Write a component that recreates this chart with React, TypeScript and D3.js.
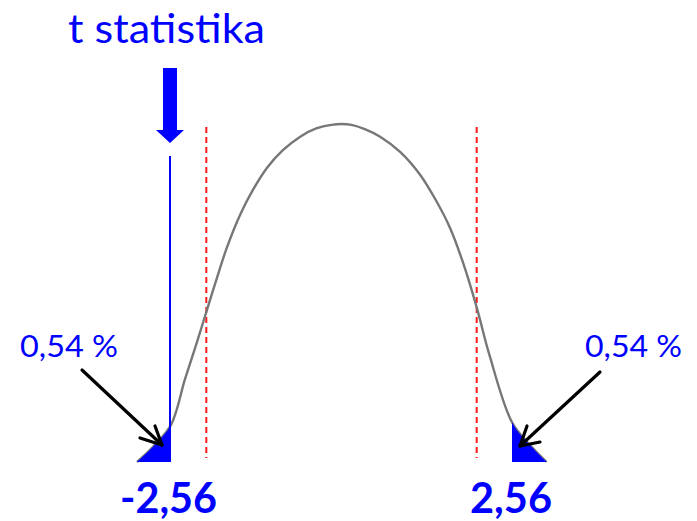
import React from "react";
import * as d3 from "d3";

// Density curve (t value, density)
const curveT = [-3.07, -2.83, -2.56, -2.35, -2.17, -2.02, -1.87, -1.72, -1.52, -1.33, -1.12, -0.88, -0.62, -0.37, -0.15, 0, 0.15, 0.35, 0.58, 0.88, 1.18, 1.43, 1.63, 1.82, 2.03, 2.22, 2.56, 2.83, 3.08];
const curveD = [0, 0.018, 0.044, 0.098, 0.142, 0.18, 0.218, 0.254, 0.293, 0.322, 0.348, 0.369, 0.385, 0.395, 0.399, 0.4, 0.399, 0.394, 0.385, 0.367, 0.34, 0.308, 0.277, 0.237, 0.183, 0.127, 0.047, 0.02, 0];

const tStat = -2.56;
const tails = [-2.56, 2.56];
const critical = [-2.03, 2.03];
const tailLabels = ["-2,56", "2,56"];
const pLabel = "0,54 %";
const title = "t statistika";

const W = 697;
const H = 521;

export default function App() {
  const x = d3.scaleLinear().domain([-2.56, 2.56]).range([171, 512]);
  const y = d3.scaleLinear().domain([0, 0.4]).range([462, 124]);
  const pts = curveT.map((t, i) => [t, curveD[i]] as [number, number]);

  const line = d3
    .line<[number, number]>()
    .x((d) => x(d[0]))
    .y((d) => y(d[1]))
    .curve(d3.curveCatmullRom.alpha(0.5));
  const area = d3
    .area<[number, number]>()
    .x((d) => x(d[0]))
    .y0(y(0))
    .y1((d) => y(d[1]))
    .curve(d3.curveCatmullRom.alpha(0.5));

  const sx = x(tStat);
  const blue = "#0000ff";
  const xl = x(tails[0]);
  const xr = x(tails[1]);

  return (
    <svg
      width={W}
      height={H}
      style={{ position: "absolute", left: 0, top: 0, background: "#fff" }}
      fontFamily="Lato, 'Open Sans', sans-serif"
    >
      <defs>
        <clipPath id="tailsClip">
          <rect x={0} y={0} width={xl} height={H} />
          <rect x={xr} y={0} width={W - xr} height={H} />
        </clipPath>
      </defs>
      <rect width={W} height={H} fill="#fff" />
      {/* critical value lines */}
      {critical.map((c, i) => (
        <line
          key={i}
          x1={x(c)}
          x2={x(c)}
          y1={127}
          y2={458}
          stroke="#ff1a1a"
          strokeWidth={2}
          strokeDasharray="6,4"
        />
      ))}
      {/* density curve */}
      <path d={line(pts) || ""} fill="none" stroke="#777" strokeWidth={2.4} />
      {/* shaded tails */}
      <path d={area(pts) || ""} fill={blue} clipPath="url(#tailsClip)" />
      {/* t statistic line */}
      <line x1={sx - 1} x2={sx - 1} y1={156} y2={y(0)} stroke={blue} strokeWidth={2} />
      {/* big blue arrow */}
      <path
        d={`M${sx - 8},68 L${sx + 6},68 L${sx + 6},130 L${sx + 13},130 L${sx - 1},143 L${sx - 15},130 L${sx - 8},130 Z`}
        fill={blue}
      />
      <text x={68} y={43} fontSize={40} fill={blue} textLength={197} lengthAdjust="spacingAndGlyphs">
        {title}
      </text>
      {/* percentage labels */}
      <text x={20} y={357} fontSize={30} fill={blue} textLength={98} lengthAdjust="spacingAndGlyphs">
        {pLabel}
      </text>
      <text x={585} y={357} fontSize={30} fill={blue} textLength={97} lengthAdjust="spacingAndGlyphs">
        {pLabel}
      </text>
      {/* black arrows */}
      <g stroke="#000" strokeWidth={3.2} fill="none" strokeLinecap="round" strokeLinejoin="round">
        <line x1={82} y1={370} x2={162} y2={445} />
        <polyline points="140,438 162,445 155,426" />
        <line x1={600} y1={372} x2={520} y2={446} />
        <polyline points="527,426 520,446 540,442" />
      </g>
      {/* tail value labels */}
      <text x={120} y={513} fontSize={42} fontWeight="bold" fill={blue} textLength={97} lengthAdjust="spacingAndGlyphs">
        {tailLabels[0]}
      </text>
      <text x={470} y={513} fontSize={42} fontWeight="bold" fill={blue} textLength={82} lengthAdjust="spacingAndGlyphs">
        {tailLabels[1]}
      </text>
    </svg>
  );
}
